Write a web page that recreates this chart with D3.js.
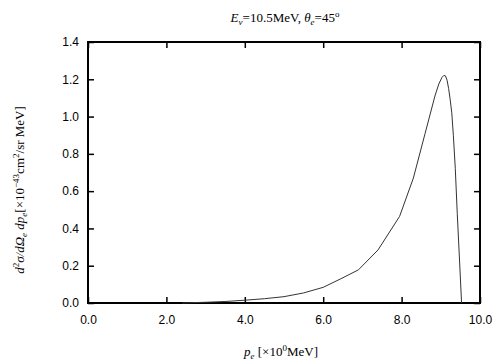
<!DOCTYPE html>
<html>
<head>
<meta charset="utf-8">
<script src="https://cdn.jsdelivr.net/npm/d3@7"></script>
<style>
  body { margin: 0; background: #fff; }
  svg { display: block; }
  .tick text { font-family: "Liberation Sans", Arial, sans-serif; font-size: 12px; }
  .lab { font-family: "Liberation Serif", "Times New Roman", serif; font-size: 13px; }
</style>
</head>
<body>
<div id="chart"></div>
<script>
// momentum p_e [MeV] and cross section [1e-43 cm^2/sr MeV]
var pe = [2.4, 3.0, 3.5, 4.0, 4.5, 5.0, 5.5, 6.0, 6.45, 6.9, 7.4, 7.95, 8.3, 8.6, 8.85, 8.95, 9.03, 9.08, 9.12, 9.16, 9.2, 9.24, 9.28, 9.32, 9.37, 9.42, 9.48, 9.53];
var xsec = [0.0, 0.004, 0.008, 0.015, 0.023, 0.034, 0.054, 0.084, 0.13, 0.178, 0.285, 0.465, 0.67, 0.91, 1.11, 1.175, 1.21, 1.221, 1.218, 1.195, 1.15, 1.09, 1.02, 0.9, 0.72, 0.48, 0.22, 0.0];
var xTicks = [0, 2, 4, 6, 8, 10];
var yTicks = [0, 0.2, 0.4, 0.6, 0.8, 1.0, 1.2, 1.4];

var W = 504, H = 360;
var m = {left: 88, right: 24, top: 42, bottom: 57};
var iw = W - m.left - m.right, ih = H - m.top - m.bottom;

var svg = d3.select("#chart").append("svg").attr("width", W).attr("height", H);
var g = svg.append("g").attr("transform", "translate(" + m.left + "," + m.top + ")");

var x = d3.scaleLinear().domain([0, 10]).range([0, iw]);
var y = d3.scaleLinear().domain([0, 1.4]).range([ih, 0]);

var fmt = d3.format(".1f");
function style(sel) {
  sel.select(".domain").remove();
  sel.selectAll(".tick line").attr("stroke", "#000").attr("stroke-width", 1.5);
}

// bottom / top / left / right ticks pointing inward
g.append("g").attr("transform", "translate(0," + ih + ")")
  .call(d3.axisBottom(x).tickValues(xTicks).tickFormat(fmt).tickSizeInner(-6).tickPadding(12))
  .call(style);
g.append("g")
  .call(d3.axisTop(x).tickValues(xTicks).tickFormat("").tickSizeInner(-6))
  .call(style);
g.append("g")
  .call(d3.axisLeft(y).tickValues(yTicks).tickFormat(fmt).tickSizeInner(-6).tickPadding(9))
  .call(style);
g.append("g").attr("transform", "translate(" + iw + ",0)")
  .call(d3.axisRight(y).tickValues(yTicks).tickFormat("").tickSizeInner(-6))
  .call(style);

g.append("rect").attr("width", iw).attr("height", ih)
  .attr("fill", "none").attr("stroke", "#000").attr("stroke-width", 2);

var line = d3.line().x(function(d, i) { return x(pe[i]); }).y(function(d) { return y(d); });
g.append("path").datum(xsec).attr("d", line)
  .attr("fill", "none").attr("stroke", "#333").attr("stroke-width", 1);

// title
var t = svg.append("text").attr("class", "lab").attr("x", 285).attr("y", 22).attr("text-anchor", "middle");
t.append("tspan").attr("font-style", "italic").text("E");
t.append("tspan").attr("font-style", "italic").attr("font-size", 9).attr("dy", 3).text("ν");
t.append("tspan").attr("dy", -3).text("=10.5MeV,  ");
t.append("tspan").attr("font-style", "italic").text("θ");
t.append("tspan").attr("font-style", "italic").attr("font-size", 9).attr("dy", 3).text("e");
t.append("tspan").attr("dy", -3).text("=45");
t.append("tspan").attr("font-size", 9).attr("dy", -5).text("o");

// x label
var xl = svg.append("text").attr("class", "lab").attr("x", 281).attr("y", 356).attr("text-anchor", "middle");
xl.append("tspan").attr("font-style", "italic").text("p");
xl.append("tspan").attr("font-style", "italic").attr("font-size", 9).attr("dy", 3).text("e");
xl.append("tspan").attr("dy", -3).text(" [×10");
xl.append("tspan").attr("font-size", 9).attr("dy", -5).text("0");
xl.append("tspan").attr("dy", 5).text("MeV]");

// y label
var yl = svg.append("text").attr("class", "lab")
  .attr("transform", "translate(24,190) rotate(-90)")
  .attr("text-anchor", "middle");
yl.append("tspan").attr("font-style", "italic").text("d");
yl.append("tspan").attr("font-size", 9).attr("dy", -5).text("2");
yl.append("tspan").attr("font-style", "italic").attr("dy", 5).text("σ/dΩ");
yl.append("tspan").attr("font-style", "italic").attr("font-size", 9).attr("dy", 3).text("e");
yl.append("tspan").attr("font-style", "italic").attr("dy", -3).text(" dp");
yl.append("tspan").attr("font-style", "italic").attr("font-size", 9).attr("dy", 3).text("e");
yl.append("tspan").attr("dy", -3).text("[×10");
yl.append("tspan").attr("font-size", 9).attr("dy", -5).text("−43");
yl.append("tspan").attr("dy", 5).text("cm");
yl.append("tspan").attr("font-size", 9).attr("dy", -5).text("2");
yl.append("tspan").attr("dy", 5).text("/sr MeV]");
</script>
</body>
</html>
